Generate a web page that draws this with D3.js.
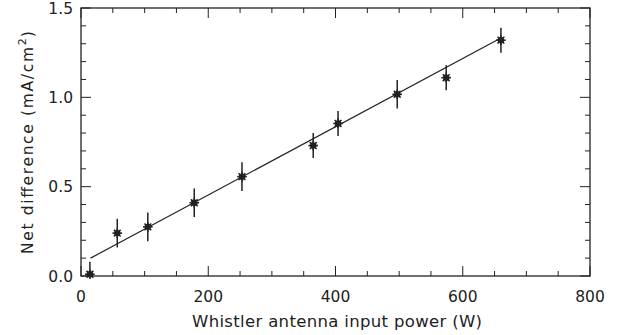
<!DOCTYPE html>
<html>
<head>
<meta charset="UTF-8">
<title>Net difference vs power</title>
<script src="https://cdn.jsdelivr.net/npm/d3@7"></script>
<style>
  body { margin: 0; background: #fff; }
  text { font-family: "DejaVu Sans", "Liberation Sans", sans-serif; fill: #222; }
</style>
</head>
<body>
<script>
// measured points (power W, net difference mA/cm^2, error)
var power = [14, 57, 105, 178, 253, 365, 404, 497, 574, 660];
var netDiff = [0.01, 0.24, 0.275, 0.41, 0.556, 0.73, 0.854, 1.017, 1.11, 1.32];
var errBar = [0.07, 0.08, 0.08, 0.08, 0.08, 0.07, 0.07, 0.08, 0.07, 0.07];
// linear fit
var fitX = [15, 660];
var fitY = [0.10, 1.332];
var xTicks = [0, 200, 400, 600, 800];
var yTicks = [0.0, 0.5, 1.0, 1.5];

var W = 621, H = 335;
var m = {left: 81, right: 31, top: 8, bottom: 59};

var svg = d3.select("body").append("svg")
    .attr("width", W).attr("height", H);

var x = d3.scaleLinear().domain([0, 800]).range([m.left, W - m.right]);
var y = d3.scaleLinear().domain([0, 1.5]).range([H - m.bottom, m.top]);

var g = svg.append("g");
var x0 = x.range()[0], x1 = x.range()[1], y0 = y.range()[0], y1 = y.range()[1];

// minor + major ticks on all sides
var xMinor = d3.range(0, 801, 50), yMinor = d3.range(0, 15.01, 1).map(function(d){ return d / 10; });
function isMajorX(v){ return v % 200 === 0; }
function isMajorY(v){ return Math.abs(v * 2 - Math.round(v * 2)) < 1e-6; }

xMinor.forEach(function(v){
  var len = isMajorX(v) ? 10 : 5;
  g.append("line").attr("x1", x(v)).attr("x2", x(v)).attr("y1", y0).attr("y2", y0 - len)
    .attr("stroke", "#222").attr("stroke-width", 1);
  g.append("line").attr("x1", x(v)).attr("x2", x(v)).attr("y1", y1).attr("y2", y1 + len)
    .attr("stroke", "#222").attr("stroke-width", 1);
});
yMinor.forEach(function(v){
  var len = isMajorY(v) ? 10 : 5;
  g.append("line").attr("x1", x0).attr("x2", x0 + len).attr("y1", y(v)).attr("y2", y(v))
    .attr("stroke", "#222").attr("stroke-width", 1);
  g.append("line").attr("x1", x1).attr("x2", x1 - len).attr("y1", y(v)).attr("y2", y(v))
    .attr("stroke", "#222").attr("stroke-width", 1);
});

g.append("rect").attr("x", x0).attr("y", y1).attr("width", x1 - x0).attr("height", y0 - y1)
  .attr("fill", "none").attr("stroke", "#222").attr("stroke-width", 1.3);

// tick labels
g.selectAll(".xl").data(xTicks).enter().append("text")
  .attr("x", function(d){ return x(d); }).attr("y", y0 + 26)
  .attr("text-anchor", "middle").attr("font-size", 15.5)
  .text(function(d){ return d; });
g.selectAll(".yl").data(yTicks).enter().append("text")
  .attr("x", x0 - 8).attr("y", function(d){ return y(d) + 5.5; })
  .attr("text-anchor", "end").attr("font-size", 15.5)
  .text(function(d){ return d.toFixed(1); });

// axis titles
svg.append("text").attr("x", 192).attr("y", 327)
  .attr("font-size", 16.5)
  .attr("textLength", 290).attr("lengthAdjust", "spacing")
  .text("Whistler antenna input power (W)");
var yt = svg.append("text")
  .attr("transform", "translate(33,254) rotate(-90)")
  .attr("font-size", 15.5);
yt.append("tspan").attr("textLength", 207).attr("lengthAdjust", "spacing").text("Net difference (mA/cm");
yt.append("tspan").attr("dy", -7).attr("font-size", 11).text("2");
yt.append("tspan").attr("dy", 7).attr("dx", 1).text(")");

// fit line
g.append("line")
  .attr("x1", x(fitX[0])).attr("y1", y(fitY[0]))
  .attr("x2", x(fitX[1])).attr("y2", y(fitY[1]))
  .attr("stroke", "#222").attr("stroke-width", 1.2);

var pts = power.map(function(p, i){ return {p: p, v: netDiff[i], e: errBar[i]}; });

// error bars
g.selectAll(".err").data(pts).enter().append("line")
  .attr("x1", function(d){ return x(d.p); }).attr("x2", function(d){ return x(d.p); })
  .attr("y1", function(d){ return y(d.v + d.e); })
  .attr("y2", function(d){ return Math.min(y0, y(d.v - d.e)); })
  .attr("stroke", "#222").attr("stroke-width", 1.5);

// asterisk markers
var mk = g.selectAll(".mk").data(pts).enter().append("g")
  .attr("transform", function(d){ return "translate(" + x(d.p) + "," + y(d.v) + ")"; });
mk.append("circle").attr("r", 3.2).attr("fill", "#222");
[0, 45, 90, 135].forEach(function(a){
  mk.append("line").attr("x1", -4.8).attr("x2", 4.8).attr("y1", 0).attr("y2", 0)
    .attr("transform", "rotate(" + a + ")")
    .attr("stroke", "#222").attr("stroke-width", 1.6);
});
</script>
</body>
</html>
